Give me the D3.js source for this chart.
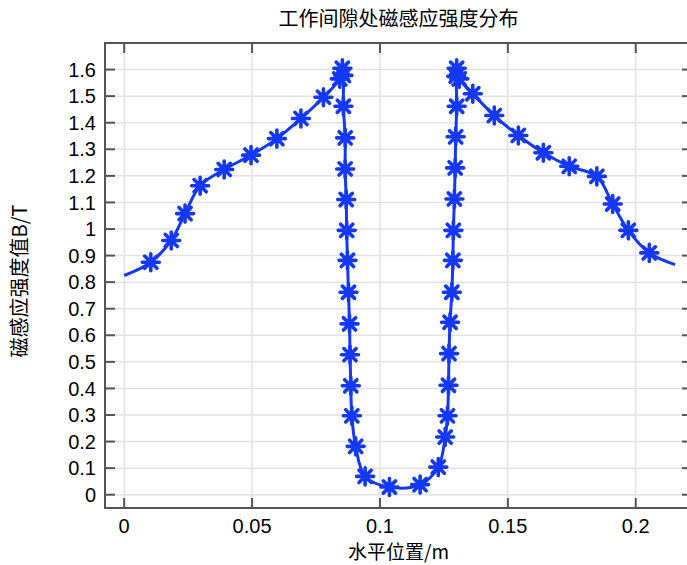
<!DOCTYPE html>
<html>
<head>
<meta charset="utf-8">
<script src="https://cdn.jsdelivr.net/npm/d3@7"></script>
<style>
  body { margin: 0; background: #fff; }
  text { font-family: "Liberation Sans", Arial, sans-serif; fill: #000; }
  .cjk { font-family: "Noto Sans CJK SC", "Liberation Sans", sans-serif; }
</style>
</head>
<body>
<script>
/* DATA */
// curve points, first and last have no marker
var xPos = [0.0000, 0.0104, 0.0184, 0.0238, 0.0297, 0.0391, 0.0496, 0.0597, 0.0691, 0.0779,
            0.0843, 0.0853, 0.0857, 0.0857, 0.0864, 0.0864, 0.0868, 0.0870, 0.0873, 0.0877,
            0.0881, 0.0883, 0.0886, 0.0890, 0.0905, 0.0942, 0.1037, 0.1157, 0.1228, 0.1255,
            0.1264, 0.1268, 0.1270, 0.1274, 0.1281, 0.1285, 0.1287, 0.1291, 0.1294, 0.1296,
            0.1300, 0.1298, 0.1300, 0.1310, 0.1363, 0.1447, 0.1541, 0.1639, 0.1740, 0.1848,
            0.1910, 0.1971, 0.2053, 0.2154];
var bVal = [0.825, 0.875, 0.957, 1.058, 1.163, 1.224, 1.278, 1.340, 1.416, 1.496,
            1.565, 1.605, 1.578, 1.462, 1.343, 1.226, 1.111, 0.995, 0.882, 0.762,
            0.643, 0.527, 0.410, 0.297, 0.182, 0.069, 0.029, 0.038, 0.104, 0.217,
            0.297, 0.412, 0.531, 0.649, 0.762, 0.882, 0.995, 1.113, 1.230, 1.347,
            1.462, 1.575, 1.605, 1.565, 1.509, 1.427, 1.352, 1.287, 1.236, 1.198,
            1.094, 0.995, 0.910, 0.866];

var xTicks = [0, 0.05, 0.1, 0.15, 0.2];
var xTickLabels = ['0', '0.05', '0.1', '0.15', '0.2'];
var yTicks = [0, 0.1, 0.2, 0.3, 0.4, 0.5, 0.6, 0.7, 0.8, 0.9, 1, 1.1, 1.2, 1.3, 1.4, 1.5, 1.6];
var yTickLabels = ['0', '0.1', '0.2', '0.3', '0.4', '0.5', '0.6', '0.7', '0.8', '0.9', '1',
                   '1.1', '1.2', '1.3', '1.4', '1.5', '1.6'];

var title = '工作间隙处磁感应强度分布';
var xLabel = '水平位置/m';
var yLabel = '磁感应强度值B/T';

/* LAYOUT */
var width = 687, height = 565;
var plotL = 105, plotR = 692, plotT = 43, plotB = 508;
var lineColor = '#1538f5';
var frameColor = '#555555';
var gridColor = '#e3e3e3';
var tickLen = 10;

var x = d3.scaleLinear().domain([-0.0075, 0.222]).range([plotL, plotR]);
var y = d3.scaleLinear().domain([-0.05, 1.7]).range([plotB, plotT]);

var svg = d3.select('body').append('svg')
    .attr('width', width)
    .attr('height', height);

svg.append('clipPath').attr('id', 'plotClip')
  .append('rect')
    .attr('x', plotL).attr('y', plotT)
    .attr('width', plotR - plotL).attr('height', plotB - plotT);

// grid
var grid = svg.append('g');
grid.selectAll('.gx').data(xTicks).enter().append('line')
    .attr('x1', d => x(d)).attr('x2', d => x(d))
    .attr('y1', plotT).attr('y2', plotB)
    .attr('stroke', gridColor).attr('stroke-width', 1.5);
grid.selectAll('.gy').data(yTicks).enter().append('line')
    .attr('x1', plotL).attr('x2', plotR)
    .attr('y1', d => y(d)).attr('y2', d => y(d))
    .attr('stroke', gridColor).attr('stroke-width', 1.5);

// inward ticks on all four sides
var ticks = svg.append('g').attr('stroke', frameColor).attr('stroke-width', 2);
xTicks.forEach(function (d) {
    ticks.append('line').attr('x1', x(d)).attr('x2', x(d)).attr('y1', plotB).attr('y2', plotB - tickLen);
    ticks.append('line').attr('x1', x(d)).attr('x2', x(d)).attr('y1', plotT).attr('y2', plotT + tickLen);
});
yTicks.forEach(function (d) {
    ticks.append('line').attr('x1', plotL).attr('x2', plotL + tickLen).attr('y1', y(d)).attr('y2', y(d));
    ticks.append('line').attr('x1', plotR).attr('x2', plotR - tickLen).attr('y1', y(d)).attr('y2', y(d));
});

// frame
svg.append('rect')
    .attr('x', plotL).attr('y', plotT)
    .attr('width', plotR - plotL).attr('height', plotB - plotT)
    .attr('fill', 'none')
    .attr('stroke', frameColor)
    .attr('stroke-width', 2);

// tick labels
svg.selectAll('.xl').data(xTicks).enter().append('text')
    .attr('x', d => x(d))
    .attr('y', 533)
    .attr('text-anchor', 'middle')
    .style('font-size', '20px')
    .text((d, i) => xTickLabels[i]);

svg.selectAll('.yl').data(yTicks).enter().append('text')
    .attr('x', plotL - 9)
    .attr('y', d => y(d))
    .attr('dy', '0.36em')
    .attr('text-anchor', 'end')
    .style('font-size', '20px')
    .text((d, i) => yTickLabels[i]);

// curve
var pts = xPos.map((d, i) => [d, bVal[i]]);
var lineGen = d3.line()
    .x(d => x(d[0]))
    .y(d => y(d[1]))
    .curve(d3.curveCatmullRom.alpha(0.5));

var plot = svg.append('g').attr('clip-path', 'url(#plotClip)');
plot.append('path')
    .datum(pts)
    .attr('d', lineGen)
    .attr('fill', 'none')
    .attr('stroke', lineColor)
    .attr('stroke-width', 3);

// asterisk markers
var r = 8.5, a = r * 0.72;
var star = 'M' + (-r) + ',0L' + r + ',0M0,' + (-r) + 'L0,' + r +
           'M' + (-a) + ',' + (-a) + 'L' + a + ',' + a +
           'M' + (-a) + ',' + a + 'L' + a + ',' + (-a);
plot.selectAll('.mk').data(pts.slice(1, pts.length - 1)).enter().append('path')
    .attr('transform', d => 'translate(' + x(d[0]) + ',' + y(d[1]) + ')')
    .attr('d', star)
    .attr('fill', 'none')
    .attr('stroke', lineColor)
    .attr('stroke-width', 3.6)
    .attr('stroke-linecap', 'round');

// titles
svg.append('text')
    .attr('class', 'cjk')
    .attr('x', (plotL + plotR) / 2)
    .attr('y', 26)
    .attr('text-anchor', 'middle')
    .style('font-size', '20px')
    .text(title);

svg.append('text')
    .attr('class', 'cjk')
    .attr('x', (plotL + plotR) / 2)
    .attr('y', 559)
    .attr('text-anchor', 'middle')
    .style('font-size', '19px')
    .text(xLabel);

svg.append('text')
    .attr('class', 'cjk')
    .attr('transform', 'translate(27,281) rotate(-90)')
    .attr('text-anchor', 'middle')
    .style('font-size', '20px')
    .text(yLabel);
</script>
</body>
</html>
